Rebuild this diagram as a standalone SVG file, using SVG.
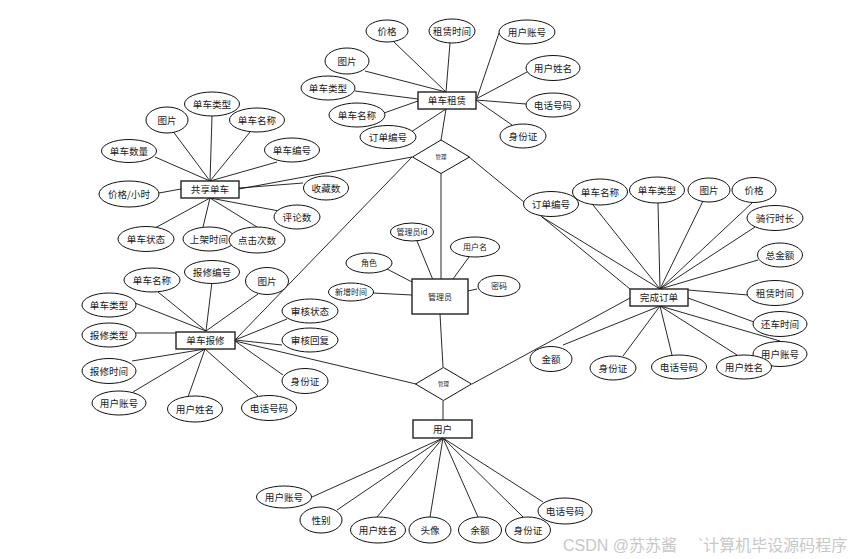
<svg xmlns="http://www.w3.org/2000/svg" width="860" height="559" viewBox="0 0 860 559">
<style>
.l{stroke:#111;stroke-width:0.9;fill:none}
.e{fill:#fff;stroke:#111;stroke-width:1}
.b{fill:#fff;stroke:#222;stroke-width:1.4}
.d{fill:#fff;stroke:#111;stroke-width:1}
text{font-family:"Noto Sans CJK SC","Liberation Sans",sans-serif;fill:#1a1a1a;text-anchor:middle}
.t{font-size:9.6px}
.s{font-size:8px}
.x{font-size:5.5px}
.w{font-size:16px;fill:#c8c8c8;text-anchor:start;font-family:"Liberation Sans","Noto Sans CJK SC",sans-serif}
</style>
<rect width="860" height="559" fill="#fff"/>
<g id="connectors">
<!-- 单车租赁 -->
<line class="l" x1="394" y1="42" x2="446" y2="92"/>
<line class="l" x1="450" y1="43" x2="446" y2="92"/>
<line class="l" x1="365" y1="71" x2="446" y2="92"/>
<line class="l" x1="355" y1="91" x2="418" y2="99"/>
<line class="l" x1="384" y1="113" x2="418" y2="101"/>
<line class="l" x1="411" y1="132" x2="446" y2="109"/>
<line class="l" x1="499" y1="33" x2="477" y2="98"/>
<line class="l" x1="527" y1="72" x2="476" y2="99"/>
<line class="l" x1="526" y1="104" x2="476" y2="100"/>
<line class="l" x1="512" y1="125" x2="476" y2="100"/>
<!-- diamonds -->
<line class="l" x1="446" y1="109" x2="441" y2="140"/>
<line class="l" x1="239" y1="189" x2="412" y2="157"/>
<line class="l" x1="412" y1="157" x2="235" y2="340"/>
<line class="l" x1="469" y1="157" x2="630" y2="289"/>
<line class="l" x1="441" y1="173" x2="441" y2="279"/>
<line class="l" x1="440" y1="314" x2="443" y2="367"/>
<line class="l" x1="235" y1="341" x2="416" y2="384"/>
<line class="l" x1="472" y1="384" x2="630" y2="298"/>
<line class="l" x1="443" y1="401" x2="443" y2="420"/>
<!-- 共享单车 -->
<line class="l" x1="172" y1="130" x2="210" y2="181"/>
<line class="l" x1="212" y1="116" x2="210" y2="181"/>
<line class="l" x1="250" y1="132" x2="210" y2="181"/>
<line class="l" x1="155" y1="157" x2="210" y2="181"/>
<line class="l" x1="277" y1="162" x2="210" y2="181"/>
<line class="l" x1="159" y1="193" x2="181" y2="189"/>
<line class="l" x1="303" y1="183" x2="239" y2="188"/>
<line class="l" x1="279" y1="211" x2="210" y2="198"/>
<line class="l" x1="155" y1="228" x2="210" y2="198"/>
<line class="l" x1="203" y1="227" x2="210" y2="198"/>
<line class="l" x1="257" y1="227" x2="210" y2="198"/>
<!-- 完成订单 -->
<line class="l" x1="542" y1="217" x2="660" y2="289"/>
<line class="l" x1="593" y1="205" x2="660" y2="289"/>
<line class="l" x1="658" y1="203" x2="660" y2="289"/>
<line class="l" x1="703" y1="201" x2="660" y2="289"/>
<line class="l" x1="752" y1="203" x2="660" y2="289"/>
<line class="l" x1="755" y1="227" x2="660" y2="289"/>
<line class="l" x1="758" y1="260" x2="660" y2="289"/>
<line class="l" x1="748" y1="295" x2="688" y2="290"/>
<line class="l" x1="754" y1="322" x2="688" y2="298"/>
<line class="l" x1="780" y1="341" x2="660" y2="306"/>
<line class="l" x1="737" y1="355" x2="660" y2="306"/>
<line class="l" x1="672" y1="355" x2="660" y2="306"/>
<line class="l" x1="623" y1="356" x2="660" y2="306"/>
<line class="l" x1="563" y1="345" x2="660" y2="306"/>
<!-- 单车报修 -->
<line class="l" x1="158" y1="292" x2="206" y2="331"/>
<line class="l" x1="212" y1="282" x2="206" y2="331"/>
<line class="l" x1="258" y1="294" x2="206" y2="331"/>
<line class="l" x1="135" y1="303" x2="206" y2="331"/>
<line class="l" x1="136" y1="333" x2="176" y2="333"/>
<line class="l" x1="132" y1="361" x2="205" y2="349"/>
<line class="l" x1="133" y1="392" x2="205" y2="349"/>
<line class="l" x1="188" y1="397" x2="205" y2="349"/>
<line class="l" x1="258" y1="396" x2="205" y2="349"/>
<line class="l" x1="283" y1="375" x2="235" y2="341"/>
<line class="l" x1="287" y1="319" x2="235" y2="340"/>
<line class="l" x1="282" y1="345" x2="235" y2="340"/>
<!-- 管理员 -->
<line class="l" x1="417" y1="241" x2="433" y2="280"/>
<line class="l" x1="469" y1="257" x2="453" y2="279"/>
<line class="l" x1="387" y1="269" x2="412" y2="282"/>
<line class="l" x1="477" y1="289" x2="468" y2="291"/>
<line class="l" x1="373" y1="293" x2="412" y2="295"/>
<!-- 用户 -->
<line class="l" x1="312" y1="497" x2="443" y2="438"/>
<line class="l" x1="337" y1="510" x2="443" y2="438"/>
<line class="l" x1="377" y1="517" x2="443" y2="438"/>
<line class="l" x1="430" y1="517" x2="443" y2="438"/>
<line class="l" x1="478" y1="517" x2="443" y2="438"/>
<line class="l" x1="523" y1="517" x2="443" y2="438"/>
<line class="l" x1="543" y1="502" x2="443" y2="438"/>
</g>

<!-- entities -->
<g id="e-rent"><rect class="b" x="418" y="92" width="58" height="17"/><text class="t" x="447" y="104">单车租赁</text></g>
<g id="e-bike"><rect class="b" x="181" y="181" width="58" height="17"/><text class="t" x="210" y="193">共享单车</text></g>
<g id="e-order"><rect class="b" x="630" y="289" width="58" height="17"/><text class="t" x="659" y="301">完成订单</text></g>
<g id="e-repair"><rect class="b" x="176" y="332" width="59" height="17"/><text class="t" x="205.5" y="344">单车报修</text></g>
<g id="e-admin"><rect class="b" x="412" y="279" width="56" height="35"/><text class="s" x="440" y="300">管理员</text></g>
<g id="e-user"><rect class="b" x="413" y="420" width="59" height="18"/><text class="t" x="442.5" y="432.5">用户</text></g>

<!-- relationships -->
<g id="r-top"><polygon class="d" points="441,140 469.5,157 441,173.5 412.5,157"/><text class="x" x="441" y="159">管理</text></g>
<g id="r-bottom"><polygon class="d" points="443.5,367.5 471.5,384 443.5,400.5 415.5,384"/><text class="x" x="443.5" y="386">管理</text></g>

<!-- 单车租赁 attributes -->
<g id="a-rent-price"><ellipse class="e" cx="387" cy="31" rx="21" ry="11"/><text class="t" x="387" y="34.5">价格</text></g>
<g id="a-rent-time"><ellipse class="e" cx="452" cy="31" rx="23" ry="12"/><text class="t" x="452" y="34.5">租赁时间</text></g>
<g id="a-rent-acc"><ellipse class="e" cx="527" cy="32" rx="28" ry="12"/><text class="t" x="527" y="35.5">用户账号</text></g>
<g id="a-rent-name"><ellipse class="e" cx="553" cy="68" rx="27" ry="12.5"/><text class="t" x="553" y="71.5">用户姓名</text></g>
<g id="a-rent-tel"><ellipse class="e" cx="553" cy="105" rx="27" ry="12"/><text class="t" x="553" y="108.5">电话号码</text></g>
<g id="a-rent-id"><ellipse class="e" cx="523" cy="136" rx="23" ry="12"/><text class="t" x="523" y="139.5">身份证</text></g>
<g id="a-rent-no"><ellipse class="e" cx="388" cy="137" rx="28" ry="11.5"/><text class="t" x="388" y="140.5">订单编号</text></g>
<g id="a-rent-bname"><ellipse class="e" cx="357" cy="115" rx="28" ry="12"/><text class="t" x="357" y="118.5">单车名称</text></g>
<g id="a-rent-btype"><ellipse class="e" cx="328" cy="88" rx="27" ry="12"/><text class="t" x="328" y="91.5">单车类型</text></g>
<g id="a-rent-pic"><ellipse class="e" cx="347" cy="61" rx="22" ry="13"/><text class="t" x="347" y="64.5">图片</text></g>

<!-- 共享单车 attributes -->
<g id="a-bike-pic"><ellipse class="e" cx="167" cy="120" rx="21" ry="13"/><text class="t" x="167" y="123.5">图片</text></g>
<g id="a-bike-type"><ellipse class="e" cx="212" cy="104" rx="27.5" ry="12"/><text class="t" x="212" y="107.5">单车类型</text></g>
<g id="a-bike-name"><ellipse class="e" cx="257" cy="120" rx="27.5" ry="12"/><text class="t" x="257" y="123.5">单车名称</text></g>
<g id="a-bike-num"><ellipse class="e" cx="129" cy="151" rx="27.5" ry="11.5"/><text class="t" x="129" y="154.5">单车数量</text></g>
<g id="a-bike-no"><ellipse class="e" cx="292" cy="150" rx="27.5" ry="12"/><text class="t" x="292" y="153.5">单车编号</text></g>
<g id="a-bike-price"><ellipse class="e" cx="129" cy="194" rx="30" ry="13"/><text class="t" x="129" y="197.5">价格/小时</text></g>
<g id="a-bike-fav"><ellipse class="e" cx="326" cy="188" rx="22.5" ry="12"/><text class="t" x="326" y="191.5">收藏数</text></g>
<g id="a-bike-cmt"><ellipse class="e" cx="297" cy="217" rx="23" ry="12"/><text class="t" x="297" y="220.5">评论数</text></g>
<g id="a-bike-state"><ellipse class="e" cx="146" cy="239" rx="28" ry="12.5"/><text class="t" x="146" y="242.5">单车状态</text></g>
<g id="a-bike-up"><ellipse class="e" cx="209" cy="239" rx="26" ry="12"/><text class="t" x="209" y="242.5">上架时间</text></g>
<g id="a-bike-click"><ellipse class="e" cx="257" cy="240" rx="28" ry="13"/><text class="t" x="257" y="243.5">点击次数</text></g>

<!-- 完成订单 attributes -->
<g id="a-ord-no"><ellipse class="e" cx="551" cy="204" rx="27.5" ry="12.5"/><text class="t" x="551" y="207.5">订单编号</text></g>
<g id="a-ord-bname"><ellipse class="e" cx="600" cy="192" rx="27.5" ry="13"/><text class="t" x="600" y="195.5">单车名称</text></g>
<g id="a-ord-btype"><ellipse class="e" cx="657" cy="190" rx="27.5" ry="13"/><text class="t" x="657" y="193.5">单车类型</text></g>
<g id="a-ord-pic"><ellipse class="e" cx="709" cy="190" rx="21" ry="12"/><text class="t" x="709" y="193.5">图片</text></g>
<g id="a-ord-price"><ellipse class="e" cx="754" cy="190" rx="22" ry="12.5"/><text class="t" x="754" y="193.5">价格</text></g>
<g id="a-ord-dur"><ellipse class="e" cx="775" cy="218" rx="28" ry="12.5"/><text class="t" x="775" y="221.5">骑行时长</text></g>
<g id="a-ord-total"><ellipse class="e" cx="780" cy="255" rx="22.5" ry="12"/><text class="t" x="780" y="258.5">总金额</text></g>
<g id="a-ord-rent"><ellipse class="e" cx="775" cy="293" rx="28" ry="12.5"/><text class="t" x="775" y="296.5">租赁时间</text></g>
<g id="a-ord-ret"><ellipse class="e" cx="780" cy="324" rx="27" ry="12.5"/><text class="t" x="780" y="327.5">还车时间</text></g>
<g id="a-ord-acc"><ellipse class="e" cx="780" cy="354" rx="27" ry="12.5"/><text class="t" x="780" y="357.5">用户账号</text></g>
<g id="a-ord-name"><ellipse class="e" cx="744" cy="367" rx="27.5" ry="12"/><text class="t" x="744" y="370.5">用户姓名</text></g>
<g id="a-ord-tel"><ellipse class="e" cx="679" cy="367" rx="27.5" ry="12"/><text class="t" x="679" y="370.5">电话号码</text></g>
<g id="a-ord-id"><ellipse class="e" cx="613" cy="368" rx="23" ry="12"/><text class="t" x="613" y="371.5">身份证</text></g>
<g id="a-ord-amt"><ellipse class="e" cx="551" cy="359" rx="21" ry="12.5"/><text class="t" x="551" y="362.5">金额</text></g>

<!-- 单车报修 attributes -->
<g id="a-rep-bname"><ellipse class="e" cx="152" cy="280" rx="28" ry="12"/><text class="t" x="152" y="283.5">单车名称</text></g>
<g id="a-rep-no"><ellipse class="e" cx="212" cy="272" rx="27.5" ry="11.5"/><text class="t" x="212" y="275.5">报修编号</text></g>
<g id="a-rep-pic"><ellipse class="e" cx="267" cy="281" rx="21.5" ry="13.5"/><text class="t" x="267" y="284.5">图片</text></g>
<g id="a-rep-btype"><ellipse class="e" cx="109" cy="305" rx="27" ry="12"/><text class="t" x="109" y="308.5">单车类型</text></g>
<g id="a-rep-type"><ellipse class="e" cx="109" cy="335" rx="27" ry="12"/><text class="t" x="109" y="338.5">报修类型</text></g>
<g id="a-rep-time"><ellipse class="e" cx="109" cy="371" rx="27" ry="12.5"/><text class="t" x="109" y="374.5">报修时间</text></g>
<g id="a-rep-acc"><ellipse class="e" cx="119" cy="403" rx="27" ry="12"/><text class="t" x="119" y="406.5">用户账号</text></g>
<g id="a-rep-name"><ellipse class="e" cx="195" cy="409" rx="27.5" ry="13"/><text class="t" x="195" y="412.5">用户姓名</text></g>
<g id="a-rep-tel"><ellipse class="e" cx="269" cy="408" rx="27.5" ry="12.5"/><text class="t" x="269" y="411.5">电话号码</text></g>
<g id="a-rep-id"><ellipse class="e" cx="305" cy="381" rx="23" ry="12.5"/><text class="t" x="305" y="384.5">身份证</text></g>
<g id="a-rep-st"><ellipse class="e" cx="310" cy="311" rx="28" ry="12"/><text class="t" x="310" y="314.5">审核状态</text></g>
<g id="a-rep-re"><ellipse class="e" cx="310" cy="340" rx="28" ry="12"/><text class="t" x="310" y="343.5">审核回复</text></g>

<!-- 管理员 attributes -->
<g id="a-adm-id"><ellipse class="e" cx="412" cy="232" rx="21.5" ry="9"/><text class="s" x="412" y="235">管理员id</text></g>
<g id="a-adm-user"><ellipse class="e" cx="475" cy="247" rx="24.5" ry="10"/><text class="s" x="475" y="250">用户名</text></g>
<g id="a-adm-role"><ellipse class="e" cx="369" cy="263" rx="23" ry="10"/><text class="s" x="369" y="266">角色</text></g>
<g id="a-adm-pwd"><ellipse class="e" cx="499" cy="286" rx="21" ry="10.5"/><text class="s" x="499" y="289">密码</text></g>
<g id="a-adm-add"><ellipse class="e" cx="351" cy="292" rx="22.5" ry="9"/><text class="s" x="351" y="295">新增时间</text></g>

<!-- 用户 attributes -->
<g id="a-usr-acc"><ellipse class="e" cx="284" cy="497" rx="27.5" ry="11"/><text class="t" x="284" y="500.5">用户账号</text></g>
<g id="a-usr-sex"><ellipse class="e" cx="321" cy="520" rx="21" ry="13"/><text class="t" x="321" y="523.5">性别</text></g>
<g id="a-usr-name"><ellipse class="e" cx="378" cy="530" rx="27.5" ry="13"/><text class="t" x="378" y="533.5">用户姓名</text></g>
<g id="a-usr-avatar"><ellipse class="e" cx="430" cy="530" rx="21" ry="13"/><text class="t" x="430" y="533.5">头像</text></g>
<g id="a-usr-bal"><ellipse class="e" cx="480" cy="530" rx="21.5" ry="13"/><text class="t" x="480" y="533.5">余额</text></g>
<g id="a-usr-id"><ellipse class="e" cx="528" cy="530" rx="22.5" ry="13"/><text class="t" x="528" y="533.5">身份证</text></g>
<g id="a-usr-tel"><ellipse class="e" cx="565" cy="511" rx="27" ry="13"/><text class="t" x="565" y="514.5">电话号码</text></g>

<text class="w" x="563" y="551">CSDN @苏苏酱</text>
<text class="w" x="698" y="551">`计算机毕设源码程序</text>
</svg>
